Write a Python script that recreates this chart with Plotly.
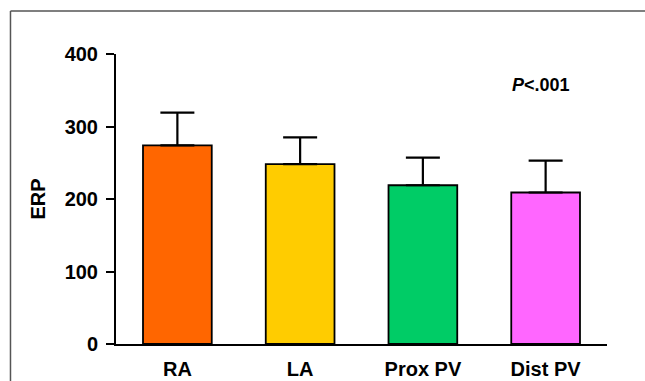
import plotly.graph_objects as go

categories = ["RA", "LA", "Prox PV", "Dist PV"]
erp_mean = [274, 248, 219, 209]
erp_sd = [45, 37, 38, 44]
bar_colors = ["#FF6600", "#FFCC00", "#00CC66", "#FF66FF"]
y_ticks = [0, 100, 200, 300, 400]

font_family = "Liberation Sans, Arial, sans-serif"

fig = go.Figure()
fig.add_trace(go.Bar(
    x=categories,
    y=erp_mean,
    marker=dict(color=bar_colors, line=dict(color="black", width=1.8)),
    error_y=dict(type="data", symmetric=False, array=erp_sd,
                 arrayminus=[0] * len(erp_sd),
                 color="black", thickness=2.2, width=17),
    width=0.56,
    showlegend=False,
    hoverinfo="skip",
))

fig.add_annotation(
    x=0.866, y=0.893, xref="paper", yref="paper",
    xanchor="center", yanchor="middle",
    text="<b><i>P</i><.001</b>", showarrow=False,
    font=dict(family=font_family, size=18, color="black"),
)

# outer frame (open at right/bottom edges as in the reference)
fig.add_shape(type="line", xref="paper", yref="paper",
              x0=-0.2149, x1=1.2, y0=1.148, y1=1.148,
              line=dict(color="#555555", width=1.5))
fig.add_shape(type="line", xref="paper", yref="paper",
              x0=-0.2149, x1=-0.2149, y0=1.148, y1=-0.2,
              line=dict(color="#555555", width=1.5))

fig.update_layout(
    width=645, height=381,
    margin=dict(l=116, r=38, t=54, b=37, autoexpand=False),
    paper_bgcolor="white", plot_bgcolor="white",
    font=dict(family=font_family, color="black"),
    bargap=0.44,
)
fig.update_xaxes(
    showline=True, linecolor="black", linewidth=2,
    ticks="", showgrid=False, zeroline=False, automargin=False,
    ticklabelstandoff=6,
    tickfont=dict(family=font_family, size=20, weight="bold", color="black"),
)
fig.update_yaxes(
    range=[0, 400], tickvals=y_ticks,
    showline=True, linecolor="black", linewidth=2,
    ticks="outside", ticklen=8, tickwidth=2, tickcolor="black",
    showgrid=False, zeroline=False, automargin=False,
    ticklabelstandoff=4,
    tickfont=dict(family=font_family, size=20, weight="bold", color="black"),
    title=dict(text="<b>ERP</b>", font=dict(family=font_family, size=20, color="black"), standoff=14),
)

fig.write_html(
    "out.html",
    config={"displayModeBar": False},
    post_script="document.body.style.margin='0';document.body.style.overflow='hidden';",
)
